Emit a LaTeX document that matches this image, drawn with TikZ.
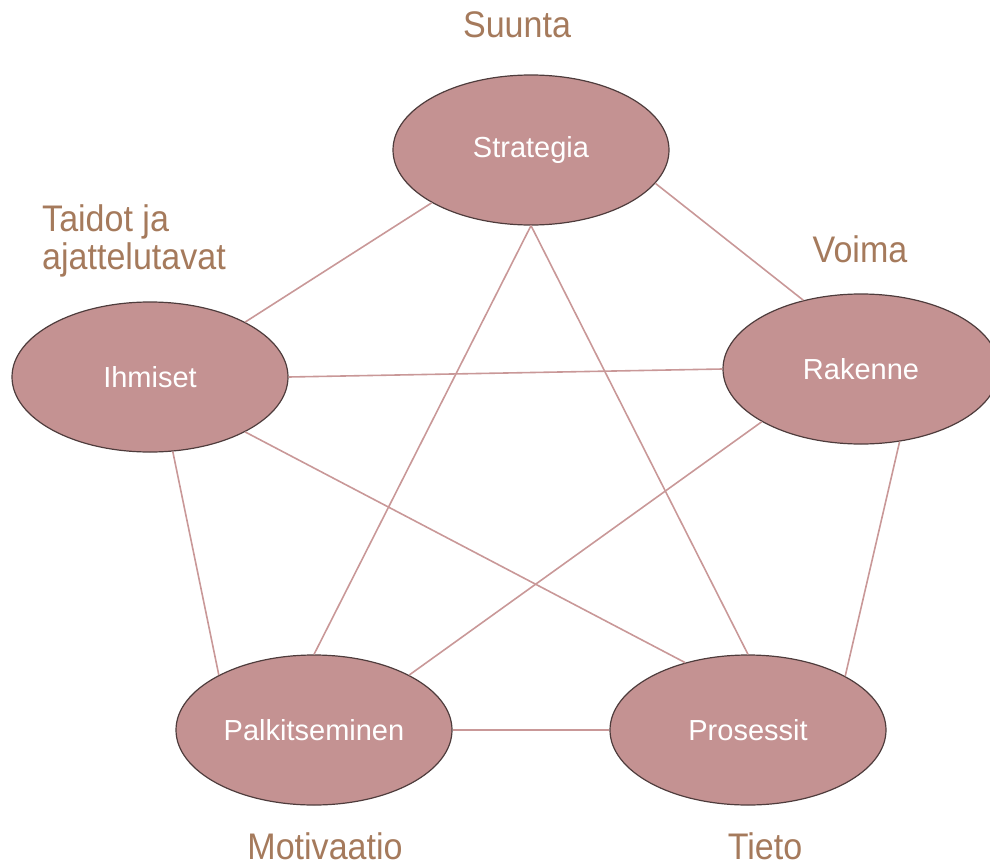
\documentclass[tikz,border=0pt]{standalone}
\usepackage{fontspec}
\setmainfont{Liberation Sans}
\newfontfamily\tagfont[FakeStretch=0.92]{Liberation Sans}
\usetikzlibrary{shapes.geometric}

\definecolor{blobfill}{HTML}{C49292}
\definecolor{blobline}{HTML}{4E3C3C}
\definecolor{linkline}{HTML}{C99898}
\definecolor{tagtext}{HTML}{A57A5C}

\tikzset{
  blob/.style={ellipse, draw=blobline, line width=1.2bp, fill=blobfill,
    minimum width=276bp, minimum height=150bp, inner sep=0pt,
    text=white, font=\fontsize{29bp}{33bp}\selectfont},
  link/.style={draw=linkline, line width=1.6bp},
  tag/.style={text=tagtext, inner sep=0pt,
    font=\tagfont\fontsize{37bp}{38bp}\selectfont}
}

\begin{document}
\begin{tikzpicture}[x=1bp, y=-1bp]

  \useasboundingbox (0,0) rectangle (990,867);

  \node[blob] (strategia) at (531,150) {Strategia};
  \node[blob] (ihmiset)   at (150,377) {Ihmiset};
  \node[blob] (rakenne)   at (861,369) {Rakenne};
  \node[blob] (palkit)    at (314,730) {Palkitseminen};
  \node[blob] (prosessit) at (748,730) {Prosessit};

  \node[tag, anchor=base] (suunta) at (517,37) {Suunta};
  \node[tag, anchor=north west, align=left] (taidot) at (42,204) {Taidot ja\\ajattelutavat};
  \node[tag, anchor=base] (voima) at (860,262) {Voima};
  \node[tag, anchor=base] (motiv) at (325,859) {Motivaatio};
  \node[tag, anchor=base] (tieto) at (765,859) {Tieto};

  \draw[link] (strategia.208) -- (ihmiset.30);      %% Strategia->Ihmiset
  \draw[link] (strategia.-15) -- (rakenne.130);     %% Strategia->Rakenne
  \draw[link] (strategia.south) -- (palkit.north);  %% Strategia->Palkitseminen
  \draw[link] (strategia.south) -- (prosessit.north); %% Strategia->Prosessit
  \draw[link] (ihmiset.east) -- (rakenne.west);     %% Ihmiset->Rakenne
  \draw[link] (ihmiset.-30) -- (prosessit.133);     %% Ihmiset->Prosessit
  \draw[link] (ihmiset.-73) -- (palkit.150);        %% Ihmiset->Palkitseminen
  \draw[link] (rakenne.208) -- (palkit.30);         %% Rakenne->Palkitseminen
  \draw[link] (rakenne.-62) -- (prosessit.29);      %% Rakenne->Prosessit
  \draw[link] (palkit.east) -- (prosessit.west);    %% Palkitseminen->Prosessit

\end{tikzpicture}
\end{document}
